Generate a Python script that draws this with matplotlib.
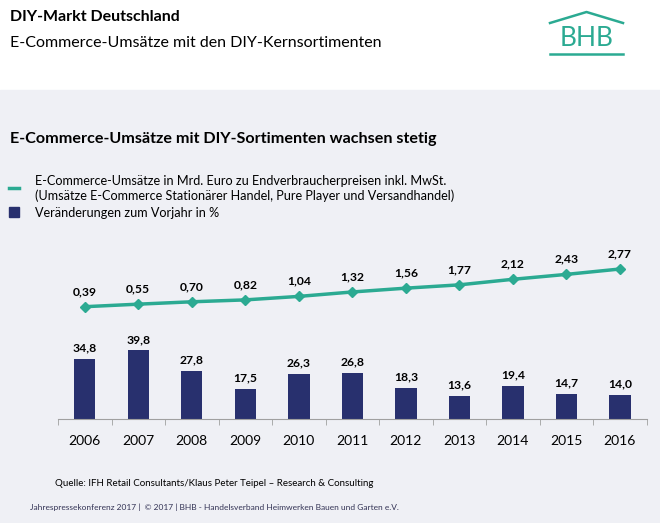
import matplotlib.pyplot as plt
from matplotlib.lines import Line2D
from matplotlib.patches import Patch, Rectangle

years = ["2006", "2007", "2008", "2009", "2010", "2011", "2012", "2013", "2014", "2015", "2016"]
umsatz = [0.39, 0.55, 0.70, 0.82, 1.04, 1.32, 1.56, 1.77, 2.12, 2.43, 2.77]
veraenderung = [34.8, 39.8, 27.8, 17.5, 26.3, 26.8, 18.3, 13.6, 19.4, 14.7, 14.0]

teal = "#2BAA92"
navy = "#28306E"
bg = "#EFF0F5"

plt.rcParams['font.family'] = ['Lato', 'DejaVu Sans']

fig = plt.figure(figsize=(6.6, 5.23), dpi=100)
fig.patch.set_facecolor("white")
# grey slide body
fig.add_artist(Rectangle((0, 0), 1, 1 - 90/523, transform=fig.transFigure, color=bg, zorder=0))

# header
fig.text(10/660, 1 - 17/523, "DIY-Markt Deutschland", fontsize=11.5, fontweight="bold", va="center")
fig.text(10/660, 1 - 43/523, "E-Commerce-Umsätze mit den DIY-Kernsortimenten", fontsize=11.5, va="center")

# BHB logo
fig.add_artist(Line2D([550/660, 586.5/660, 623/660], [1 - 23/523, 1 - 12/523, 1 - 23/523],
                      transform=fig.transFigure, color=teal, lw=1.8))
fig.add_artist(Line2D([550/660, 623/660], [1 - 54/523, 1 - 54/523],
                      transform=fig.transFigure, color=teal, lw=1.8))
fig.text(586.5/660, 1 - 38/523, "BHB", fontsize=19, color=teal, ha="center", va="center")

# chart title
fig.text(10/660, 1 - 139/523, "E-Commerce-Umsätze mit DIY-Sortimenten wachsen stetig",
         fontsize=11.6, fontweight="bold", va="center")

# legend
handles = [Line2D([0], [0], color=teal, lw=2.5),
           Patch(facecolor=navy, edgecolor=navy)]
labels = ["E-Commerce-Umsätze in Mrd. Euro zu Endverbraucherpreisen inkl. MwSt.\n"
          "(Umsätze E-Commerce Stationärer Handel, Pure Player und Versandhandel)",
          "Veränderungen zum Vorjahr in %"]
fig.legend(handles, labels, loc="upper left", bbox_to_anchor=(0.0, 1 - 166/523),
           frameon=False, fontsize=9.1, handlelength=0.8, handleheight=0.9,
           handletextpad=1.3, labelspacing=0.4, borderaxespad=0.3)

# chart
ax = fig.add_axes([58/660, 103.7/523, 588.7/660, 169.3/523])
ax.set_facecolor("none")
x = range(len(years))
bars = ax.bar(x, veraenderung, width=0.4, color=navy)
for xi, v in zip(x, veraenderung):
    ax.annotate(f"{v:.1f}".replace(".", ","), (xi, v), xytext=(0, 4), textcoords="offset points",
                ha="center", va="bottom", fontsize=8.7, fontweight="bold")
ax.set_ylim(0, 97.9)
ax.set_xlim(-0.5, len(years) - 0.5)
ax.set_xticks(list(x))
ax.set_xticklabels(years, fontsize=10)
ax.set_xticks([i - 0.5 for i in range(len(years) + 1)], minor=True)
ax.tick_params(axis="x", which="major", length=0, pad=11)
ax.tick_params(axis="x", which="minor", length=4, color="#A0A0A0")
ax.set_yticks([])
for s in ["top", "left", "right"]:
    ax.spines[s].set_visible(False)
ax.spines["bottom"].set_color("#A0A0A0")

ax2 = ax.twinx()
ax2.plot(list(x), umsatz, color=teal, lw=2.5, marker="D", markersize=5)
for xi, v in zip(x, umsatz):
    ax2.annotate(f"{v:.2f}".replace(".", ","), (xi, v), xytext=(0, 7), textcoords="offset points",
                 ha="center", va="bottom", fontsize=8.7, fontweight="bold")
ax2.set_ylim(-6.72, 3.97)
ax2.set_yticks([])
for s in ax2.spines.values():
    s.set_visible(False)

# footer
fig.text(55/660, 1 - 484/523, "Quelle: IFH Retail Consultants/Klaus Peter Teipel \u2013 Research & Consulting",
         fontsize=7, va="center")
fig.text(30/660, 1 - 507/523,
         "Jahrespressekonferenz 2017 |  \u00a9 2017 | BHB - Handelsverband Heimwerken Bauen und Garten e.V.",
         fontsize=6, va="center", color="#333355")

fig.savefig("out.png", dpi=100, facecolor=fig.get_facecolor())
